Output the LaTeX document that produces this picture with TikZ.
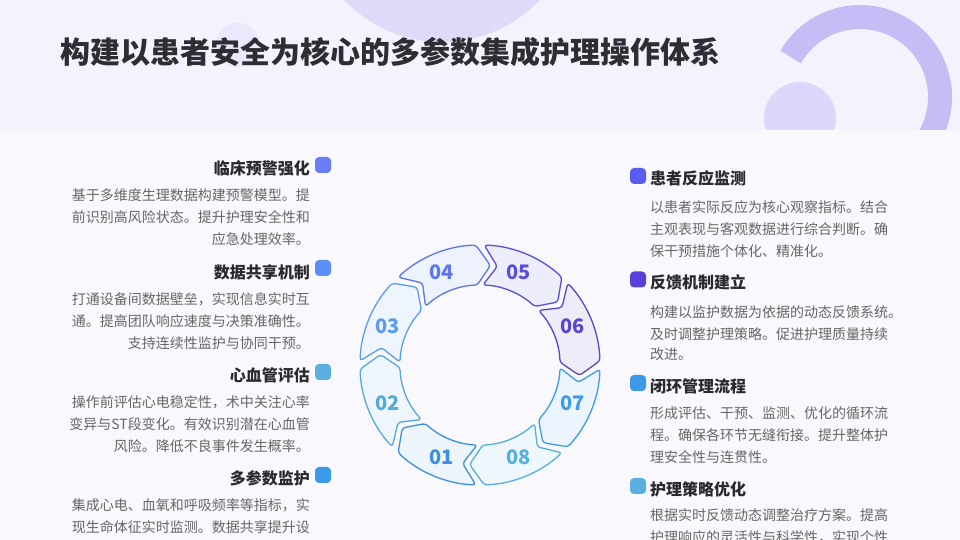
\documentclass[tikz,border=0pt]{standalone}
\usepackage{fontspec}
\setmainfont{Noto Sans CJK SC}
\newfontfamily\cjk{Noto Sans CJK SC}
\definecolor{bgbody}{HTML}{F9F8FD}
\definecolor{bghead}{HTML}{F4F2FC}
\definecolor{decoA}{HTML}{DEDAFA}
\definecolor{decoB}{HTML}{ECE8FB}
\definecolor{decoC}{HTML}{C7BCF5}
\definecolor{decoD}{HTML}{DDD7FA}
\definecolor{titlec}{HTML}{2D2D33}
\definecolor{headc}{HTML}{2A2A2E}
\definecolor{bodyc}{HTML}{666666}
\definecolor{s1}{HTML}{3D8FE0}
\definecolor{s2}{HTML}{55A8DC}
\definecolor{s3}{HTML}{5A9CF0}
\definecolor{s4}{HTML}{5A78E8}
\definecolor{s5}{HTML}{5A4FD8}
\definecolor{s6}{HTML}{5B45C8}
\definecolor{s7}{HTML}{3D9BE8}
\definecolor{s8}{HTML}{55B0E0}
\definecolor{m1}{HTML}{6B7CF5}
\definecolor{m2}{HTML}{5B8FF5}
\definecolor{m3}{HTML}{5AAEE0}
\definecolor{m4}{HTML}{3A9AE8}
\definecolor{m5}{HTML}{5B5CF0}
\definecolor{m6}{HTML}{5A3FD8}
\definecolor{m7}{HTML}{3A9AE8}
\definecolor{m8}{HTML}{5AAEE0}
\tikzset{
  headl/.style={anchor=east, inner sep=0pt, text=headc, font=\cjk\bfseries\fontsize{16}{16}\selectfont},
  headr/.style={anchor=west, inner sep=0pt, text=headc, font=\cjk\bfseries\fontsize{16}{16}\selectfont},
  bodyl/.style={anchor=east, inner sep=0pt, text=bodyc, font=\cjk\fontsize{14}{14}\selectfont},
  bodyr/.style={anchor=west, inner sep=0pt, text=bodyc, font=\cjk\fontsize{14}{14}\selectfont},
  marker/.style={rectangle, rounded corners=4pt, minimum size=16pt, inner sep=0pt},
  seg/.style={line width=1.3pt, rounded corners=3pt, line join=round},
  numl/.style={inner sep=0pt, font=\cjk\bfseries\fontsize{20}{20}\selectfont}
}
\begin{document}
\begin{tikzpicture}[x=1pt,y=1pt]
\useasboundingbox (0,0) rectangle (960,540);
\fill[bgbody] (0,0) rectangle (960,540);
\fill[bghead] (0,410) rectangle (960,540);
\begin{scope}
  \clip (0,410) rectangle (960,540);
  \fill[decoA] (442,633) circle[radius=135];
  \fill[decoB] (238,495) circle[radius=22];
  \draw[decoC, line width=24pt] (860,443) ++(150:80) arc[start angle=150, end angle=-70, radius=80];
  \fill[decoD] (800,422) circle[radius=36];
\end{scope}
\node[anchor=west, inner sep=0pt, text=titlec, font=\cjk\bfseries\fontsize{30}{30}\selectfont] (title) at (60,488) {构建以患者安全为核心的多参数集成护理操作体系};

% left column
\node[headl] (h1) at (310,372) {临床预警强化};
\node[bodyl] (b11) at (310,345) {基于多维度生理数据构建预警模型。提};
\node[bodyl] (b12) at (310,323) {前识别高风险状态。提升护理安全性和};
\node[bodyl] (b13) at (310,301) {应急处理效率。};
\node[marker, fill=m1] (k1) at (323,375) {};

\node[headl] (h2) at (310,268) {数据共享机制};
\node[bodyl] (b21) at (310,241) {打通设备间数据壁垒，实现信息实时互};
\node[bodyl] (b22) at (310,219) {通。提高团队响应速度与决策准确性。};
\node[bodyl] (b23) at (310,197) {支持连续性监护与协同干预。};
\node[marker, fill=m2] (k2) at (323,272) {};

\node[headl] (h3) at (310,165) {心血管评估};
\node[bodyl] (b31) at (310,138) {操作前评估心电稳定性，术中关注心率};
\node[bodyl] (b32) at (310,116) {变异与ST段变化。有效识别潜在心血管};
\node[bodyl] (b33) at (310,94) {风险。降低不良事件发生概率。};
\node[marker, fill=m3] (k3) at (323,168) {};

\node[headl] (h4) at (310,62) {多参数监护};
\node[bodyl] (b41) at (310,35) {集成心电、血氧和呼吸频率等指标，实};
\node[bodyl] (b42) at (310,13) {现生命体征实时监测。数据共享提升设};
\node[marker, fill=m4] (k4) at (323,65) {};

% right column
\node[marker, fill=m5] (k5) at (638,364) {};
\node[headr] (h5) at (650,362) {患者反应监测};
\node[bodyr] (b51) at (650,333) {以患者实际反应为核心观察指标。结合};
\node[bodyr] (b52) at (650,311) {主观表现与客观数据进行综合判断。确};
\node[bodyr] (b53) at (650,289) {保干预措施个体化、精准化。};

\node[marker, fill=m6] (k6) at (638,260.5) {};
\node[headr] (h6) at (650,258) {反馈机制建立};
\node[bodyr] (b61) at (650,228) {构建以监护数据为依据的动态反馈系统。};
\node[bodyr] (b62) at (650,206) {及时调整护理策略。促进护理质量持续};
\node[bodyr] (b63) at (650,186) {改进。};

\node[marker, fill=m7] (k7) at (638,157) {};
\node[headr] (h7) at (650,154) {闭环管理流程};
\node[bodyr] (b71) at (650,127) {形成评估、干预、监测、优化的循环流};
\node[bodyr] (b72) at (650,105) {程。确保各环节无缝衔接。提升整体护};
\node[bodyr] (b73) at (650,83) {理安全性与连贯性。};

\node[marker, fill=m8] (k8) at (638,54) {};
\node[headr] (h8) at (650,51) {护理策略优化};
\node[bodyr] (b81) at (650,25) {根据实时反馈动态调整治疗方案。提高};
\node[bodyr] (b82) at (650,3) {护理响应的灵活性与科学性，实现个性};

% ring of segments
\begin{scope}[shift={(480,175)}]
\foreach \c/\t/\col in {247.5/01/s1, 202.5/02/s2, 157.5/03/s3, 112.5/04/s4, 67.5/05/s5, 22.5/06/s6, -22.5/07/s7, -67.5/08/s8}{
  \pgfmathsetmacro\aA{\c+20.5}
  \pgfmathsetmacro\aB{\c-20.5}
  \pgfmathsetmacro\aT{\c-28.5}
  \pgfmathsetmacro\aN{\c+12.5}
  \draw[seg, draw=\col, fill=\col!10!white]
    (\aA:120) arc[start angle=\aA, end angle=\aB, radius=120]
    -- (\aT:100) -- (\aB:80)
    arc[start angle=\aB, end angle=\aA, radius=80]
    -- (\aN:100) -- cycle;
  \node[numl, text=\col] (n\t) at (\c:100) {\t};
}
\end{scope}
\end{tikzpicture}
\end{document}
